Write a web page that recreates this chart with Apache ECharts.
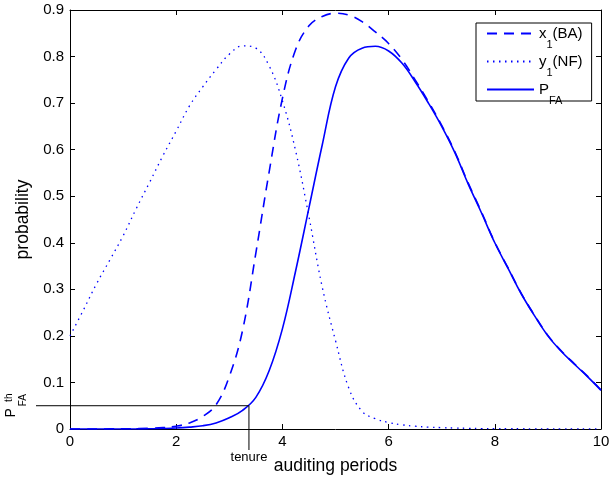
<!DOCTYPE html>
<html>
<head>
<meta charset="utf-8">
<script src="https://cdn.jsdelivr.net/npm/echarts@6/dist/echarts.min.js"></script>
<style>
  html, body { margin: 0; padding: 0; background: #fff; }
  #chart { width: 609px; height: 481px; }
</style>
</head>
<body>
<div id="chart"></div>
<script>
// auditing periods, sampled every quarter period
const periods = [0, 0.25, 0.5, 0.75, 1, 1.25, 1.5, 1.75, 2, 2.25, 2.5, 2.75, 3, 3.25, 3.5, 3.75,
  4, 4.25, 4.5, 4.75, 5, 5.25, 5.5, 5.75, 6, 6.25, 6.5, 6.75, 7, 7.25, 7.5, 7.75,
  8, 8.25, 8.5, 8.75, 9, 9.25, 9.5, 9.75, 10];

// x1(BA) - dashed
const x1BA = [0, 0, 0.0001, 0.0002, 0.0004, 0.0008, 0.0015, 0.003, 0.006, 0.013, 0.027, 0.052,
  0.113, 0.212, 0.378, 0.552, 0.710, 0.815, 0.866, 0.886, 0.893, 0.889, 0.875, 0.853,
  0.828, 0.794, 0.750, 0.703, 0.652, 0.595, 0.528, 0.466, 0.401, 0.346, 0.291, 0.244,
  0.201, 0.168, 0.140, 0.113, 0.084];

// y1(NF) - dotted
const y1NF = [0.200, 0.255, 0.312, 0.363, 0.415, 0.474, 0.530, 0.587, 0.640, 0.694, 0.735, 0.772,
  0.805, 0.823, 0.818, 0.780, 0.705, 0.597, 0.456, 0.305, 0.190, 0.088, 0.038, 0.022,
  0.014, 0.009, 0.006, 0.004, 0.003, 0.002, 0.0015, 0.001, 0.001, 0.0005, 0.0005, 0.0003,
  0.0003, 0.0002, 0.0002, 0.0001, 0.0001];

// P_FA - solid
const pFA = [0, 0, 0, 0, 0.0001, 0.0002, 0.0005, 0.001, 0.002, 0.004, 0.007, 0.013,
  0.024, 0.040, 0.068, 0.125, 0.215, 0.340, 0.475, 0.610, 0.735, 0.797, 0.818, 0.822,
  0.812, 0.786, 0.746, 0.700, 0.650, 0.593, 0.526, 0.464, 0.400, 0.345, 0.290, 0.243,
  0.200, 0.167, 0.139, 0.112, 0.083];

const threshold = 0.05;   // P_FA^th
const tenure = 3.37;

const FONT = '"Liberation Sans", Arial, Helvetica, sans-serif';
const BLUE = '#0000ff';

const legendText = {
  'x1(BA)': '{m|x}{s|1}{m|(BA)}',
  'y1(NF)': '{m|y}{s|1}{m|(NF)}',
  'PFA': '{m|P}{s|FA}'
};

function pairs(ys) {
  return periods.map((x, i) => [x, ys[i]]);
}

function frameAxis(pos, extra) {
  return Object.assign({
    type: 'value',
    position: pos,
    axisLine: { show: true, onZero: false, lineStyle: { color: '#000', width: 1 } },
    axisTick: { show: true, inside: true, length: 5, lineStyle: { color: '#000', width: 1 } },
    splitLine: { show: false },
    axisLabel: { show: false }
  }, extra);
}

const chart = echarts.init(document.getElementById('chart'));

const option = {
  animation: false,
  backgroundColor: '#fff',
  grid: { left: 70, right: 8, top: 10, bottom: 52, outerBoundsMode: 'none' },
  xAxis: [
    frameAxis('bottom', {
      min: 0, max: 10, interval: 2,
      axisLabel: { show: true, color: '#000', fontSize: 15, fontFamily: FONT, margin: 5 },
      name: 'auditing periods',
      nameLocation: 'middle',
      nameGap: 28,
      nameTextStyle: { color: '#000', fontSize: 17.5, fontFamily: FONT }
    }),
    frameAxis('top', { min: 0, max: 10, interval: 2 })
  ],
  yAxis: [
    frameAxis('left', {
      min: 0, max: 0.9, interval: 0.1,
      axisLabel: { show: true, color: '#000', fontSize: 15, fontFamily: FONT, margin: 6 },
      name: 'probability',
      nameLocation: 'middle',
      nameGap: 36,
      nameTextStyle: { color: '#000', fontSize: 17.5, fontFamily: FONT }
    }),
    frameAxis('right', { min: 0, max: 0.9, interval: 0.1 })
  ],
  legend: {
    orient: 'vertical',
    left: 476,
    top: 23,
    padding: [3, 9, -5, 10],
    itemWidth: 47,
    itemHeight: 14,
    itemGap: 4,
    borderColor: '#000',
    borderWidth: 1,
    backgroundColor: '#fff',
    itemStyle: { opacity: 0 },
    formatter: name => legendText[name],
    textStyle: {
      color: '#000',
      fontFamily: FONT,
      rich: {
        m: { fontSize: 15, fontFamily: FONT, color: '#000', verticalAlign: 'middle' },
        s: { fontSize: 11, fontFamily: FONT, color: '#000', lineHeight: 10, padding: [13, 0, 0, 0], verticalAlign: 'top' }
      }
    },
    data: ['x1(BA)', 'y1(NF)', 'PFA']
  },
  series: [
    {
      name: 'x1(BA)', type: 'line', data: pairs(x1BA), symbol: 'none', smooth: 0.4,
      lineStyle: { color: BLUE, width: 1.6, type: [10, 7] }, itemStyle: { color: BLUE }
    },
    {
      name: 'y1(NF)', type: 'line', data: pairs(y1NF), symbol: 'none', smooth: 0.4,
      lineStyle: { color: BLUE, width: 1.3, type: [1.5, 4.5] }, itemStyle: { color: BLUE }
    },
    {
      name: 'PFA', type: 'line', data: pairs(pFA), symbol: 'none', smooth: 0.4,
      lineStyle: { color: BLUE, width: 1.6 }, itemStyle: { color: BLUE }
    }
  ]
};

chart.setOption(option);

// threshold / tenure guide lines, placed through the chart's own scales
const toPx = v => chart.convertToPixel({ xAxisIndex: 0, yAxisIndex: 0 }, v);
const pAxis = toPx([0, threshold]);
const pHit = toPx([tenure, threshold]);
const pBase = toPx([tenure, 0]);
const blackLine = { stroke: '#000', lineWidth: 1 };
const ty = pAxis[1];

chart.setOption({
  graphic: [
    { type: 'line', shape: { x1: pAxis[0] - 34, y1: ty, x2: pHit[0], y2: ty }, style: blackLine, z: 10 },
    { type: 'line', shape: { x1: pHit[0], y1: ty, x2: pBase[0], y2: pBase[1] + 21 }, style: blackLine, z: 10 },
    { type: 'text', x: pBase[0], y: pBase[1] + 28,
      style: { text: 'tenure', fontSize: 13, fontFamily: FONT, fill: '#000', align: 'center', verticalAlign: 'middle' } },
    // P_FA^th, rotated like the y-axis title
    { type: 'text', x: 11, y: ty + 7, rotation: Math.PI / 2,
      style: { text: 'P', fontSize: 14, fontFamily: FONT, fill: '#000', align: 'center', verticalAlign: 'middle' } },
    { type: 'text', x: 9.5, y: ty - 8, rotation: Math.PI / 2,
      style: { text: 'th', fontSize: 10, fontFamily: FONT, fill: '#000', align: 'center', verticalAlign: 'middle' } },
    { type: 'text', x: 23.5, y: ty - 5.5, rotation: Math.PI / 2,
      style: { text: 'FA', fontSize: 10, fontFamily: FONT, fill: '#000', align: 'center', verticalAlign: 'middle' } }
  ]
});
</script>
</body>
</html>
